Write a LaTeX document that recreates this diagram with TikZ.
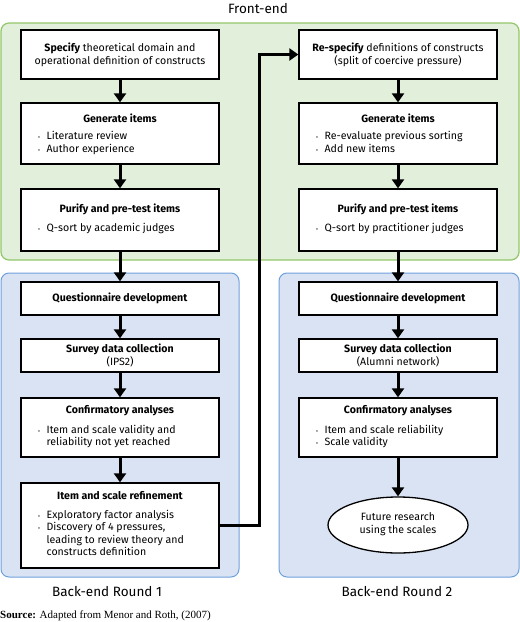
\documentclass[tikz,border=0pt]{standalone}
\usepackage{fontspec}
\setmainfont{Fira Sans}
\newfontfamily\srcfont{Liberation Serif}
\usetikzlibrary{arrows.meta,shapes.geometric}
\definecolor{gfill}{RGB}{226,239,218}
\definecolor{gline}{RGB}{146,198,105}
\definecolor{bfill}{RGB}{218,227,243}
\definecolor{bline}{RGB}{112,160,220}
\newcommand\blist[1]{\begin{tabular}{@{}l@{\hspace{6.5pt}}l@{}}#1\end{tabular}}
\newcommand\bul{{\fontsize{6}{6}\selectfont\textbullet}}
\begin{document}
\begin{tikzpicture}[x=1pt,y=-1pt,
  front/.style={rounded corners=8pt, fill=gfill, draw=gline, line width=1.2pt},
  back/.style={rounded corners=8pt, fill=bfill, draw=bline, line width=1pt},
  box/.style={draw, fill=white, line width=1.3pt, minimum width=198pt, inner sep=0pt},
  txt/.style={font=\fontsize{10.6}{13}\selectfont, inner sep=0pt, align=center},
  btxt/.style={font=\fontsize{10.6}{12.6}\selectfont, inner sep=0pt, anchor=west},
  head/.style={font=\fontsize{13.5}{15}\selectfont, inner sep=0pt},
  flow/.style={line width=3pt, -{Triangle[width=12pt,length=9pt]}}]
\useasboundingbox (0,0) rectangle (520,622);
% backgrounds
\path[front] (1,23) rectangle (519,260);
\path[back] (1,273) rectangle (239,577);
\path[back] (279,273) rectangle (519,577);
% headings
\node[head] (hfront) at (258,9) {Front-end};
\node[head] (hb1) at (107,592) {Back-end Round 1};
\node[head] (hb2) at (397,592) {Back-end Round 2};
\node[font=\srcfont\fontsize{11}{12}\selectfont, inner sep=0pt, anchor=west] (src) at (0,616) {\textbf{Source:} Adapted from Menor and Roth, (2007)};
% left column boxes
\node[box, minimum height=49pt] (spec1) at (120,54.5) {};
\node[box, minimum height=61pt] (gen1) at (120,133.5) {};
\node[box, minimum height=62pt] (pur1) at (120,220) {};
\node[box, minimum height=33pt] (que1) at (120,298.5) {};
\node[box, minimum height=33pt] (sur1) at (120,355.5) {};
\node[box, minimum height=59pt] (con1) at (120,427.5) {};
\node[box, minimum height=85pt] (ref1) at (120,525.5) {};
% right column boxes
\node[box, minimum height=49pt] (spec2) at (398,54.5) {};
\node[box, minimum height=61pt] (gen2) at (398,133.5) {};
\node[box, minimum height=62pt] (pur2) at (398,220) {};
\node[box, minimum height=33pt] (que2) at (398,298.5) {};
\node[box, minimum height=33pt] (sur2) at (398,355.5) {};
\node[box, minimum height=59pt] (con2) at (398,427.5) {};
\node[ellipse, draw, fill=white, line width=1.3pt, minimum width=140pt, minimum height=56pt, inner sep=0pt] (fut) at (398,525) {};
% left texts
\node[txt] (tspec1) at (120,54.5) {\textbf{Specify} theoretical domain and\\operational definition of constructs};
\node[txt] (tgen1) at (120,118) {\textbf{Generate items}};
\node[btxt] (lgen1) at (38,143.5) {\blist{\bul & Literature review\\ \bul & Author experience}};
\node[txt] (tpur1) at (120,209) {\textbf{Purify and pre-test items}};
\node[btxt] (lpur1) at (38,229) {\blist{\bul & Q-sort by academic judges}};
\node[txt] (tque1) at (120,298.5) {\textbf{Questionnaire development}};
\node[txt] (tsur1) at (120,355.5) {\textbf{Survey data collection}\\(IPS2)};
\node[txt] (tcon1) at (120,411) {\textbf{Confirmatory analyses}};
\node[btxt] (lcon1) at (38,437) {\blist{\bul & Item and scale validity and\\ & reliability not yet reached}};
\node[txt] (tref1) at (120,496) {\textbf{Item and scale refinement}};
\node[btxt] (lref1) at (38,534.5) {\blist{\bul & Exploratory factor analysis\\ \bul & Discovery of 4 pressures,\\ & leading to review theory and\\ & constructs definition}};
% right texts
\node[txt] (tspec2) at (398,54.5) {\textbf{Re-specify} definitions of constructs\\(split of coercive pressure)};
\node[txt] (tgen2) at (398,118) {\textbf{Generate items}};
\node[btxt] (lgen2) at (316,143.5) {\blist{\bul & Re-evaluate previous sorting\\ \bul & Add new items}};
\node[txt] (tpur2) at (398,209) {\textbf{Purify and pre-test items}};
\node[btxt] (lpur2) at (316,229) {\blist{\bul & Q-sort by practitioner judges}};
\node[txt] (tque2) at (398,298.5) {\textbf{Questionnaire development}};
\node[txt] (tsur2) at (398,355.5) {\textbf{Survey data collection}\\(Alumni network)};
\node[txt] (tcon2) at (398,411) {\textbf{Confirmatory analyses}};
\node[btxt] (lcon2) at (316,437) {\blist{\bul & Item and scale reliability\\ \bul & Scale validity}};
\node[txt] (tfut) at (398,524) {Future research\\using the scales};
% connectors
\draw[flow] (spec1) -- (gen1);
\draw[flow] (gen1) -- (pur1);
\draw[flow] (pur1) -- (que1);
\draw[flow] (que1) -- (sur1);
\draw[flow] (sur1) -- (con1);
\draw[flow] (con1) -- (ref1);
\draw[flow] (spec2) -- (gen2);
\draw[flow] (gen2) -- (pur2);
\draw[flow] (pur2) -- (que2);
\draw[flow] (que2) -- (sur2);
\draw[flow] (sur2) -- (con2);
\draw[flow] (con2) -- (fut);
\draw[flow] (ref1.east) -- ++(40,0) |- (spec2.west);
\end{tikzpicture}
\end{document}
